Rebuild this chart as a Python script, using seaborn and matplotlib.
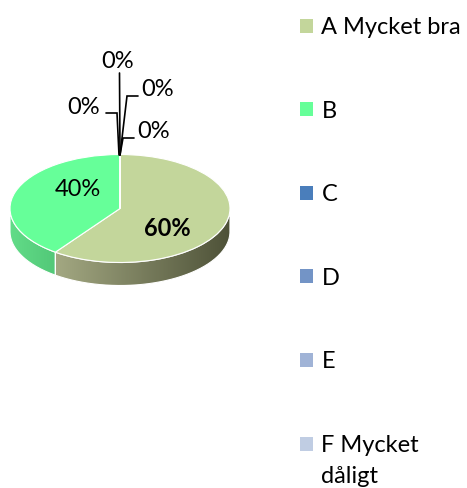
import numpy as np
import matplotlib
matplotlib.use("Agg")
import matplotlib.pyplot as plt
from matplotlib.colors import LinearSegmentedColormap
from matplotlib.patches import PathPatch
from matplotlib.path import Path
import seaborn as sns

categories = ['A Mycket bra', 'B', 'C', 'D', 'E', 'F Mycket\ndåligt']
values = [60, 40, 0, 0, 0, 0]
colors = ['#C3D69B', '#66FF99', '#4A7EBB', '#7394C6', '#A0B3D6', '#C0CDE3']
wall_colors = [('#A3A882', '#4E5238'), ('#62DC88', '#52C878')]

W, H = 467, 488
CX, CY, RX, RY, DEPTH = 120, 208.5, 110, 54, 23
FONT = 17

sns.set_theme(style="white")
plt.rcParams['font.family'] = ['Lato', 'DejaVu Sans']
plt.rcParams['font.size'] = FONT

fig = plt.figure(figsize=(W / 100, H / 100), dpi=100)

# pie axes: one data unit = RX px across, RY px down, so the circle comes out as an ellipse
left, right, top, bottom = 0, 240, 130, 300
ax = fig.add_axes([left / W, 1 - bottom / H, (right - left) / W, (bottom - top) / H])
wedges, _ = ax.pie(values, colors=colors, startangle=90, counterclock=False, radius=1,
                   center=(0, 0), wedgeprops=dict(edgecolor='white', linewidth=0.8))
ax.set_aspect('auto')
ax.axis('off')

# side wall of the disc, only the front facing part of each slice
depth = DEPTH / RY
ends = 90 - np.cumsum(values) / np.sum(values) * 360
starts = np.r_[90, ends[:-1]]
for i in range(2):
    hi, lo = starts[i], ends[i]
    a = np.radians(np.linspace(max(lo, -180), min(hi, 0), 80))
    x, y = np.cos(a), np.sin(a)
    verts = np.r_[np.c_[x, y], np.c_[x[::-1], y[::-1] - depth], [[x[0], y[0]]]]
    clip = PathPatch(Path(verts), facecolor='none', edgecolor='white', linewidth=0.8, zorder=0.5)
    ax.add_patch(clip)
    cmap = LinearSegmentedColormap.from_list('wall', wall_colors[i])
    im = ax.imshow(np.linspace(0, 1, 128)[None, :], cmap=cmap, aspect='auto', zorder=0.4,
                   extent=(x.min(), x.max(), y.min() - depth, y.max()))
    im.set_clip_path(clip)
ax.set_xlim((left - CX) / RX, (right - CX) / RX)
ax.set_ylim((CY - bottom) / RY, (CY - top) / RY)

# overlay in pixel coordinates for the data labels
ov = fig.add_axes([0, 0, 1, 1], facecolor='none')
ov.set_xlim(0, W)
ov.set_ylim(H, 0)
ov.axis('off')

ov.text(77.5, 189.5, f'{values[1]}%', ha='center', va='center', color='black')
ov.text(167, 228.5, f'{values[0]}%', ha='center', va='center', color='black', fontweight='bold')

zero_labels = [(84, 107.5, [(119, 155), (117, 113), (106, 113)]),
               (118, 61.5, [(120, 155), (119.5, 73)]),
               (158, 89.5, [(120, 155), (127, 96), (138, 96)]),
               (154, 131.5, [(120, 155), (123, 138), (134, 138)])]
for (tx, ty, pts), v in zip(zero_labels, values[2:]):
    ov.text(tx, ty, f'{v}%', ha='center', va='center', color='black')
    px, py = zip(*pts)
    ov.plot(px, py, color='black', lw=1.2, solid_joinstyle='miter')

leg = ov.legend(wedges, categories, loc='upper left', bbox_to_anchor=(300 / W, 1 - 17 / H),
                bbox_transform=fig.transFigure, frameon=False, borderpad=0, borderaxespad=0,
                fontsize=FONT, handlelength=0.55, handleheight=0.55, handletextpad=0.36,
                labelspacing=2.65, labelcolor='black')
for h in leg.get_patches():
    h.set_edgecolor('none')
leg.get_texts()[-1].set_linespacing(1.62)
# two line entry: keep the swatch on the first line
leg.get_patches()[-1].set_y(leg.get_patches()[-1].get_y() + 12.5)

fig.savefig('out.png', dpi=100)
